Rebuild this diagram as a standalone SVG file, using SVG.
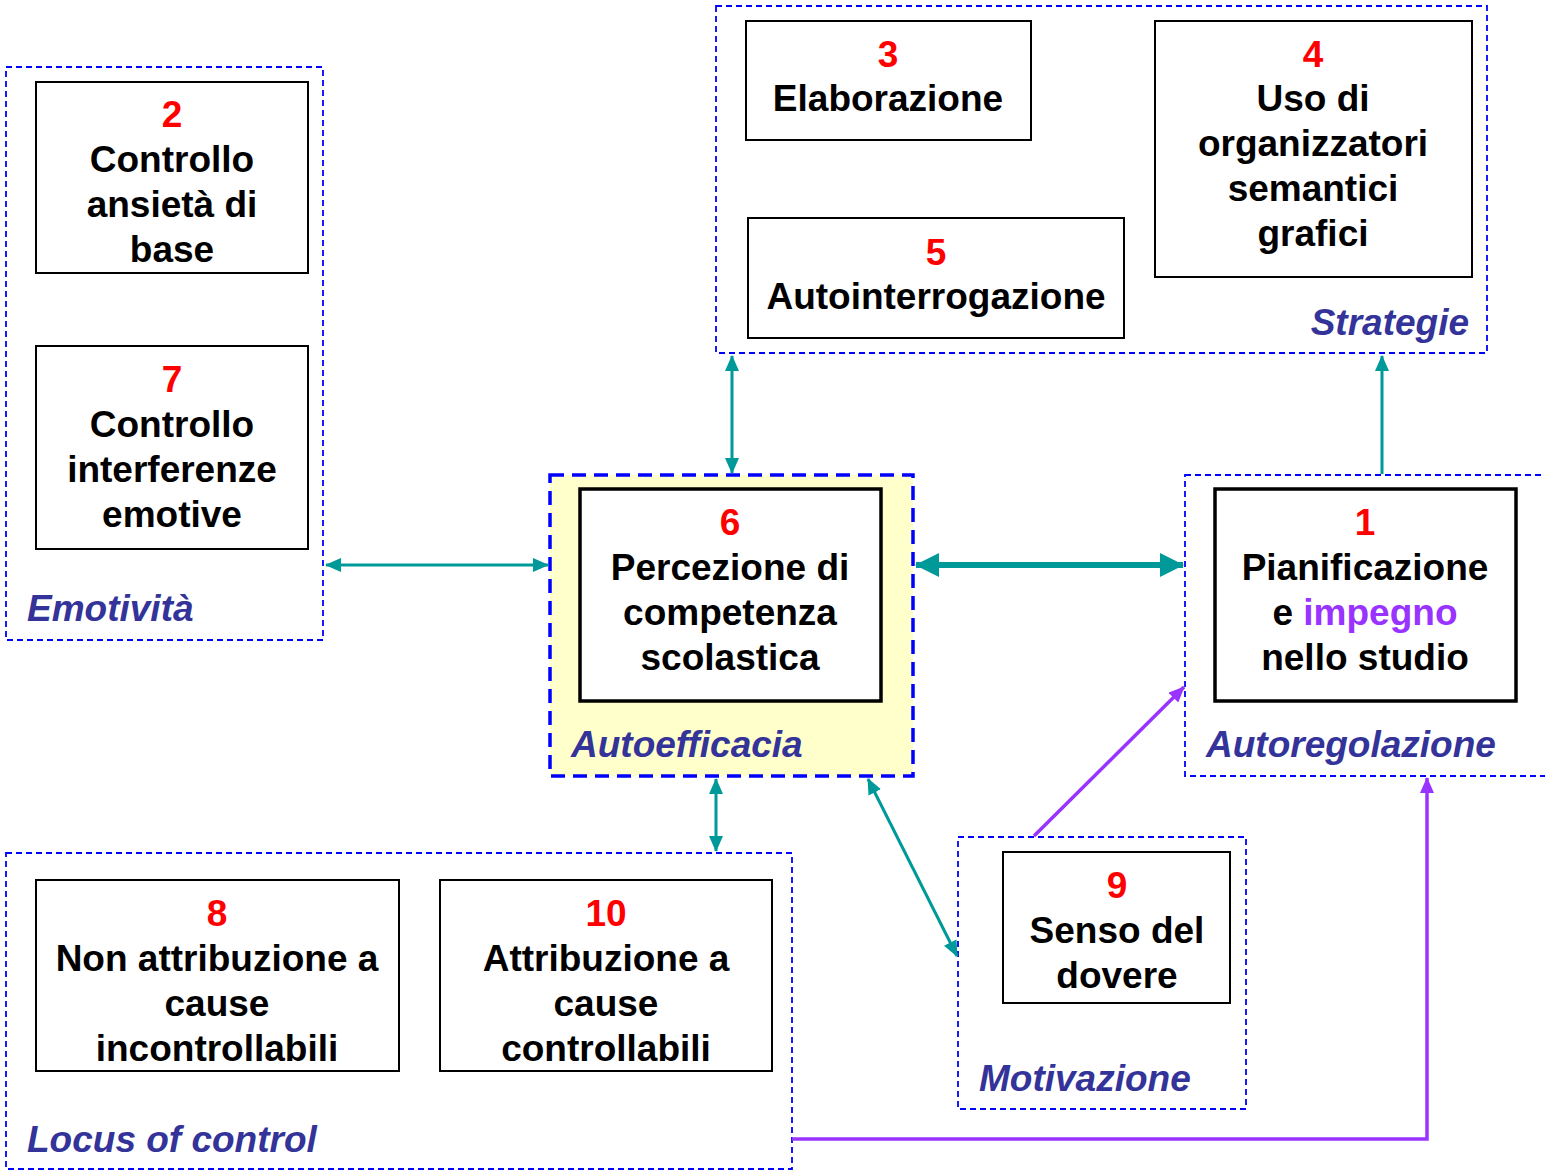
<svg xmlns="http://www.w3.org/2000/svg" width="1545" height="1173" viewBox="0 0 1545 1173">
<style>
.grp{fill:none;stroke:#0000FF;stroke-width:1.8;stroke-dasharray:6,4}
.grpT{fill:#FFFFCC;stroke:#0000FF;stroke-width:3.5;stroke-dasharray:14,8}
.box{fill:#FFFFFF;stroke:#000000;stroke-width:2}
.boxT{fill:#FFFFFF;stroke:#000000;stroke-width:3.5}
.t{font-family:"Liberation Sans",Arial,sans-serif;font-weight:bold;font-size:37px;fill:#000000;text-anchor:middle}
.n{fill:#FF0000}
.p{fill:#9933FF}
.lab{font-family:"Liberation Sans",Arial,sans-serif;font-weight:bold;font-style:italic;font-size:37px;fill:#333399}
.tl{stroke:#009999;stroke-width:3;fill:none}
.tlw{stroke:#009999;stroke-width:6;fill:none}
.pl{stroke:#9933FF;stroke-width:3.5;fill:none}
</style>
<defs>
<marker id="ta" viewBox="0 0 16 14" refX="15" refY="7" markerWidth="16" markerHeight="14" markerUnits="userSpaceOnUse" orient="auto-start-reverse"><path d="M0,0 L16,7 L0,14 z" fill="#009999"/></marker>
<marker id="taw" viewBox="0 0 24 24" refX="23" refY="12" markerWidth="24" markerHeight="24" markerUnits="userSpaceOnUse" orient="auto-start-reverse"><path d="M0,0 L24,12 L0,24 z" fill="#009999"/></marker>
<marker id="pa" viewBox="0 0 16 14" refX="15" refY="7" markerWidth="16" markerHeight="14" markerUnits="userSpaceOnUse" orient="auto-start-reverse"><path d="M0,0 L16,7 L0,14 z" fill="#9933FF"/></marker>
</defs>

<g id="emotivita">
<rect class="grp" x="6" y="67" width="317" height="573"/>
<text class="lab" x="27" y="621">Emotività</text>
</g>
<g id="node2">
<rect class="box" x="36" y="82" width="272" height="191"/>
<text class="t" x="172" y="127"><tspan class="n">2</tspan><tspan x="172" y="172">Controllo</tspan><tspan x="172" y="217">ansietà di</tspan><tspan x="172" y="262">base</tspan></text>
</g>
<g id="node7">
<rect class="box" x="36" y="346" width="272" height="203"/>
<text class="t" x="172" y="392"><tspan class="n">7</tspan><tspan x="172" y="437">Controllo</tspan><tspan x="172" y="482">interferenze</tspan><tspan x="172" y="527">emotive</tspan></text>
</g>

<g id="strategie">
<rect class="grp" x="716" y="6" width="771" height="347"/>
<text class="lab" x="1469" y="335" text-anchor="end">Strategie</text>
</g>
<g id="node3">
<rect class="box" x="746" y="21" width="285" height="119"/>
<text class="t" x="888" y="67"><tspan class="n">3</tspan><tspan x="888" y="111">Elaborazione</tspan></text>
</g>
<g id="node4">
<rect class="box" x="1155" y="21" width="317" height="256"/>
<text class="t" x="1313" y="67"><tspan class="n">4</tspan><tspan x="1313" y="111">Uso di</tspan><tspan x="1313" y="156">organizzatori</tspan><tspan x="1313" y="201">semantici</tspan><tspan x="1313" y="246">grafici</tspan></text>
</g>
<g id="node5">
<rect class="box" x="748" y="218" width="376" height="120"/>
<text class="t" x="936" y="265"><tspan class="n">5</tspan><tspan x="936" y="309">Autointerrogazione</tspan></text>
</g>

<g id="autoefficacia">
<rect class="grpT" x="550" y="475" width="363" height="301"/>
<text class="lab" x="571" y="757">Autoefficacia</text>
</g>
<g id="node6">
<rect class="boxT" x="580" y="489" width="301" height="212"/>
<text class="t" x="730" y="535"><tspan class="n">6</tspan><tspan x="730" y="580">Percezione di</tspan><tspan x="730" y="625">competenza</tspan><tspan x="730" y="670">scolastica</tspan></text>
</g>

<g id="autoregolazione">
<rect class="grp" x="1185" y="475" width="380" height="301"/>
<text class="lab" x="1206" y="757">Autoregolazione</text>
</g>
<g id="node1">
<rect class="boxT" x="1215" y="489" width="301" height="212"/>
<text class="t" x="1365" y="535"><tspan class="n">1</tspan><tspan x="1365" y="580">Pianificazione</tspan><tspan x="1365" y="625">e <tspan class="p">impegno</tspan></tspan><tspan x="1365" y="670">nello studio</tspan></text>
</g>

<g id="locus">
<rect class="grp" x="6" y="853" width="786" height="316"/>
<text class="lab" x="27" y="1152">Locus of control</text>
</g>
<g id="node8">
<rect class="box" x="36" y="880" width="363" height="191"/>
<text class="t" x="217" y="926"><tspan class="n">8</tspan><tspan x="217" y="971">Non attribuzione a</tspan><tspan x="217" y="1016">cause</tspan><tspan x="217" y="1061">incontrollabili</tspan></text>
</g>
<g id="node10">
<rect class="box" x="440" y="880" width="332" height="191"/>
<text class="t" x="606" y="926"><tspan class="n">10</tspan><tspan x="606" y="971">Attribuzione a</tspan><tspan x="606" y="1016">cause</tspan><tspan x="606" y="1061">controllabili</tspan></text>
</g>

<g id="motivazione">
<rect class="grp" x="958" y="837" width="288" height="272"/>
<text class="lab" x="979" y="1091">Motivazione</text>
</g>
<g id="node9">
<rect class="box" x="1003" y="852" width="227" height="151"/>
<text class="t" x="1117" y="898"><tspan class="n">9</tspan><tspan x="1117" y="943">Senso del</tspan><tspan x="1117" y="988">dovere</tspan></text>
</g>

<g id="connectors">
<line class="tl" x1="326" y1="565" x2="548" y2="565" marker-start="url(#ta)" marker-end="url(#ta)"/>
<line class="tlw" x1="916" y1="565" x2="1183" y2="565" marker-start="url(#taw)" marker-end="url(#taw)"/>
<line class="tl" x1="732" y1="356" x2="732" y2="473" marker-start="url(#ta)" marker-end="url(#ta)"/>
<line class="tl" x1="1382" y1="474" x2="1382" y2="356" marker-end="url(#ta)"/>
<line class="tl" x1="716" y1="779" x2="716" y2="851" marker-start="url(#ta)" marker-end="url(#ta)"/>
<line class="tl" x1="868" y1="779" x2="957" y2="956" marker-start="url(#ta)" marker-end="url(#ta)"/>
<line class="pl" x1="1034" y1="836" x2="1184" y2="687" marker-end="url(#pa)"/>
<polyline class="pl" points="792,1139 1427,1139 1427,778" marker-end="url(#pa)"/>
</g>
</svg>
